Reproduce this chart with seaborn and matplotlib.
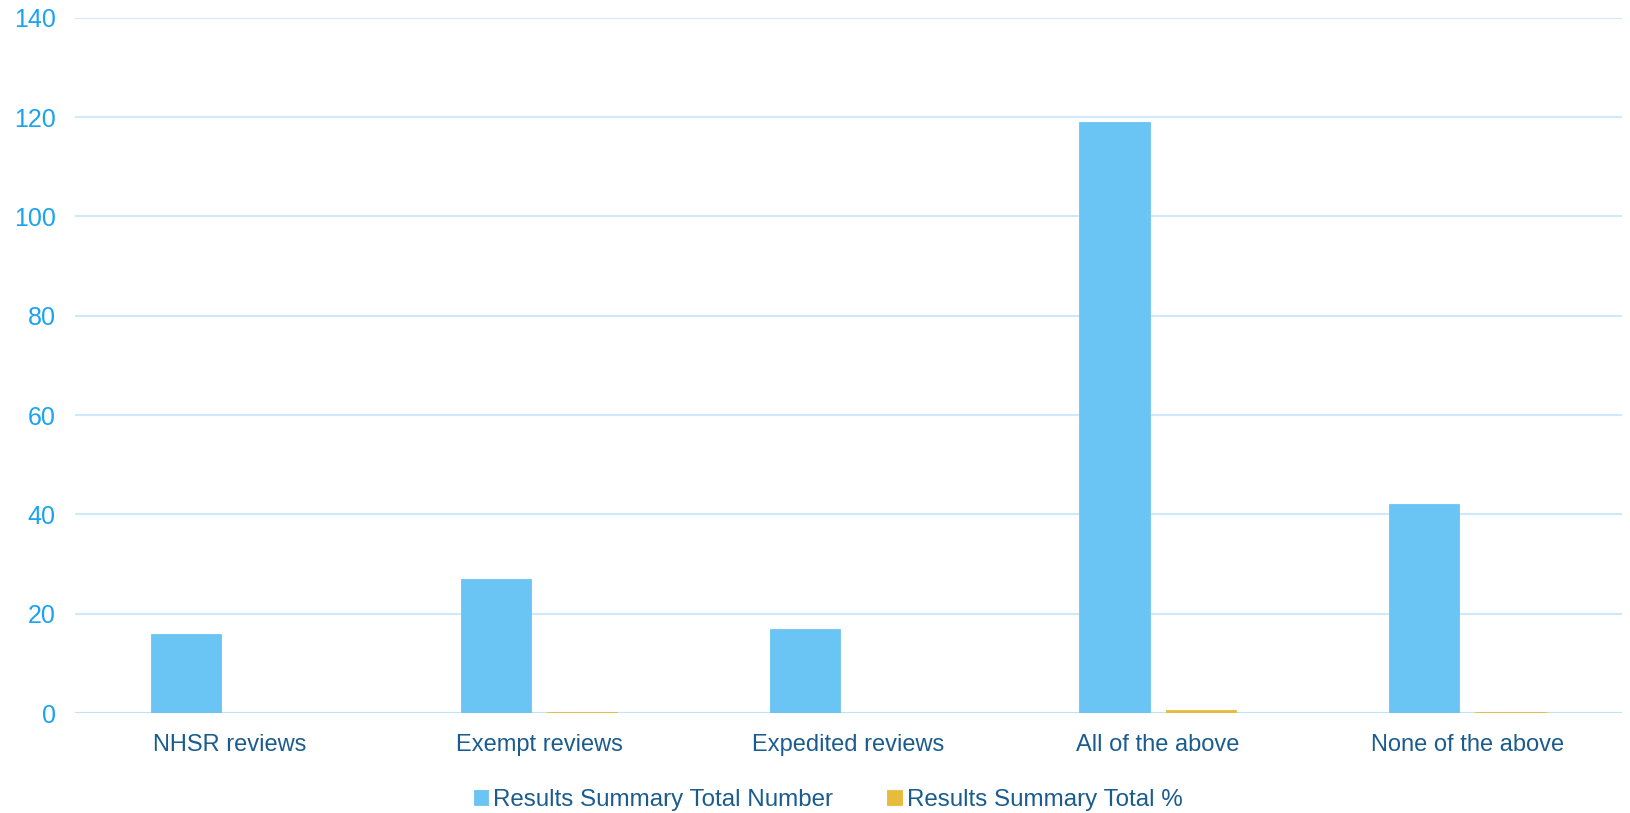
import matplotlib
matplotlib.use('Agg')
import matplotlib.pyplot as plt
import seaborn as sns
import pandas as pd

# 資料
categories = ['NHSR reviews', 'Exempt reviews', 'Expedited reviews', 'All of the above', 'None of the above']
total_number = [16, 27, 17, 119, 42]
total_pct = [0.072, 0.122, 0.077, 0.538, 0.190]
series_names = ['Results Summary Total Number', 'Results Summary Total %']
y_ticks = [0, 20, 40, 60, 80, 100, 120, 140]

df = pd.DataFrame({
    'category': categories * 2,
    'value': total_number + total_pct,
    'series': [series_names[0]] * len(categories) + [series_names[1]] * len(categories),
})

sns.set_style('white')
plt.rcParams['font.family'] = ['Liberation Sans', 'DejaVu Sans']

fig = plt.figure(figsize=(16.3, 8.13), dpi=100)
ax = fig.add_axes([0.046, 0.123, 0.949, 0.855])

sns.barplot(data=df, x='category', y='value', hue='series', order=categories,
            palette=['#6AC5F5', '#E8BB3C'], width=0.56, gap=0.19,
            saturation=1, ax=ax, zorder=3)

# 讓極小的百分比柱也看得見
for p in ax.patches:
    p.set_edgecolor(p.get_facecolor())
    p.set_linewidth(0.6)

ax.set_ylim(0, 140)
ax.set_yticks(y_ticks)
ax.set_xlim(-0.5, len(categories) - 0.5)
ax.grid(axis='y', color='#CFE9FA', linewidth=1.5, zorder=0)
ax.axhline(0, color='#BFE2F7', linewidth=2.2, zorder=2)
for s in ax.spines.values():
    s.set_visible(False)
ax.set_xlabel('')
ax.set_ylabel('')
ax.tick_params(axis='y', colors='#1AA3F0', labelsize=18, length=0, pad=14)
ax.tick_params(axis='x', colors='#1B5C8E', labelsize=17, length=0, pad=15)

ax.legend(loc='center', bbox_to_anchor=(0.508, 0.016), bbox_transform=fig.transFigure,
          ncol=2, frameon=False, fontsize=17.4, handlelength=0.6, handleheight=0.6,
          handletextpad=0.2, columnspacing=2.25, labelcolor='#1B5C8E')

plt.savefig('out.png', dpi=100)
